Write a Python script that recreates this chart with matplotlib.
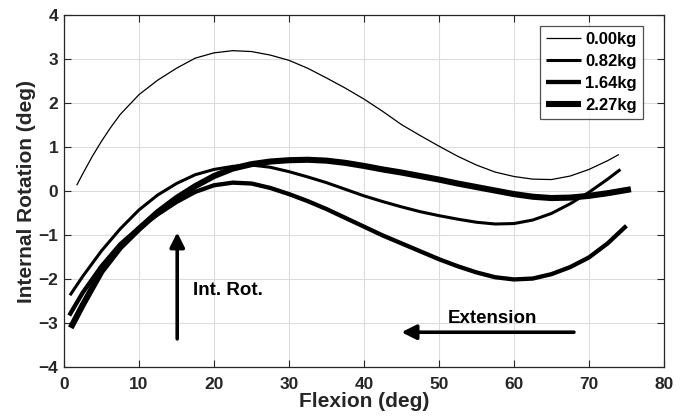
import matplotlib
matplotlib.use("Agg")
import matplotlib.pyplot as plt

plt.rcParams['font.family'] = ['Liberation Sans', 'DejaVu Sans']
plt.rcParams['font.weight'] = 'bold'

# Internal rotation vs. flexion for each applied load
loads = ['0.00kg', '0.82kg', '1.64kg', '2.27kg']
widths = [0.9, 2.2, 3.1, 4.4]

flex_000 = [1.7, 2.5, 3.75, 5, 6.25, 7.5, 10, 12.5, 15, 17.5, 20, 22.5, 25, 27.5, 30, 32.5, 35,
            37.5, 40, 42.5, 45, 47.5, 50, 52.5, 55, 57.5, 60, 62.5, 65, 67.5, 70, 72.5, 74]
rot_000 = [0.14, 0.4, 0.79, 1.14, 1.46, 1.75, 2.2, 2.53, 2.8, 3.03, 3.15, 3.2, 3.18, 3.1, 2.98, 2.8, 2.58,
           2.35, 2.1, 1.82, 1.52, 1.27, 1.03, 0.8, 0.6, 0.44, 0.34, 0.28, 0.27, 0.35, 0.5, 0.7, 0.84]

flex_082 = [0.8, 2.5, 5, 7.5, 10, 12.5, 15, 17.5, 20, 22.5, 25, 27.5, 30, 32.5, 35,
            37.5, 40, 42.5, 45, 47.5, 50, 52.5, 55, 57.5, 60, 62.5, 65, 67.5, 70, 72.5, 74.2]
rot_082 = [-2.36, -1.93, -1.35, -0.85, -0.42, -0.08, 0.18, 0.38, 0.5, 0.57, 0.6, 0.55, 0.45, 0.33, 0.2,
           0.05, -0.1, -0.23, -0.35, -0.46, -0.55, -0.63, -0.7, -0.74, -0.73, -0.65, -0.5, -0.28, -0.02, 0.28, 0.5]

flex_164 = [0.7, 2.5, 5, 7.5, 10, 12.5, 15, 17.5, 20, 22.5, 25, 27.5, 30, 32.5, 35,
            37.5, 40, 42.5, 45, 47.5, 50, 52.5, 55, 57.5, 60, 62.5, 65, 67.5, 70, 72.5, 75]
rot_164 = [-2.82, -2.3, -1.7, -1.2, -0.83, -0.52, -0.24, -0.01, 0.14, 0.2, 0.18, 0.08, -0.06, -0.22, -0.4,
           -0.6, -0.8, -1.0, -1.18, -1.36, -1.54, -1.7, -1.84, -1.95, -2.0, -1.98, -1.88, -1.72, -1.5, -1.18, -0.78]

flex_227 = [0.9, 2.5, 5, 7.5, 10, 12.5, 15, 17.5, 20, 22.5, 25, 27.5, 30, 32.5, 35,
            37.5, 40, 42.5, 45, 47.5, 50, 52.5, 55, 57.5, 60, 62.5, 65, 67.5, 70, 72.5, 75.6]
rot_227 = [-3.1, -2.58, -1.82, -1.27, -0.85, -0.47, -0.15, 0.12, 0.35, 0.52, 0.62, 0.68, 0.71, 0.72, 0.7,
           0.65, 0.58, 0.5, 0.43, 0.35, 0.27, 0.18, 0.1, 0.02, -0.06, -0.12, -0.15, -0.14, -0.1, -0.04, 0.05]

flex = [flex_000, flex_082, flex_164, flex_227]
rot = [rot_000, rot_082, rot_164, rot_227]

fig = plt.figure(figsize=(6.88, 4.18), dpi=100)
ax = fig.add_axes([0.093, 0.121, 0.872, 0.842])

for x, y, lab, lw in zip(flex, rot, loads, widths):
    ax.plot(x, y, color='black', lw=lw, label=lab, solid_capstyle='butt', solid_joinstyle='round')

ax.set_xlim(0, 80)
ax.set_ylim(-4, 4)
ax.set_xticks(range(0, 81, 10))
ax.set_yticks(range(-4, 5))
ax.grid(True, color='#dcdcdc', lw=0.8)
ax.set_axisbelow(True)
ax.tick_params(direction='in', top=True, right=True, length=5, width=0.8,
               color='#262626', labelsize=12.5, labelcolor='#262626')
ax.tick_params(axis='x', pad=7)
ax.tick_params(axis='y', pad=4)
for s in ax.spines.values():
    s.set_color('#262626')
    s.set_linewidth(0.9)

ax.set_xlabel('Flexion (deg)', fontsize=15, fontweight='bold', color='#262626', labelpad=0)
ax.set_ylabel('Internal Rotation (deg)', fontsize=15, fontweight='bold', color='#262626', labelpad=2)

leg = ax.legend(loc='upper right', bbox_to_anchor=(0.965, 0.97), fontsize=12, frameon=True,
                fancybox=False, edgecolor='#262626', handlelength=2.1, handletextpad=0.25,
                borderpad=0.35, labelspacing=0.42, borderaxespad=0)
leg.get_frame().set_linewidth(0.9)
for t in leg.get_texts():
    t.set_fontweight('bold')

# direction markers
ax.annotate('', xy=(15.1, -0.93), xytext=(15.1, -3.35),
            arrowprops=dict(arrowstyle='-|>', lw=2.6, color='black', mutation_scale=22, shrinkA=0, shrinkB=0))
ax.text(17.2, -2.25, 'Int. Rot.', fontsize=13.5, fontweight='bold', va='center', ha='left')
ax.annotate('', xy=(45.0, -3.2), xytext=(68.0, -3.2),
            arrowprops=dict(arrowstyle='-|>', lw=2.6, color='black', mutation_scale=22, shrinkA=0, shrinkB=0))
ax.text(51.2, -2.89, 'Extension', fontsize=13.5, fontweight='bold', va='center', ha='left')

fig.savefig('out.png', dpi=100)
